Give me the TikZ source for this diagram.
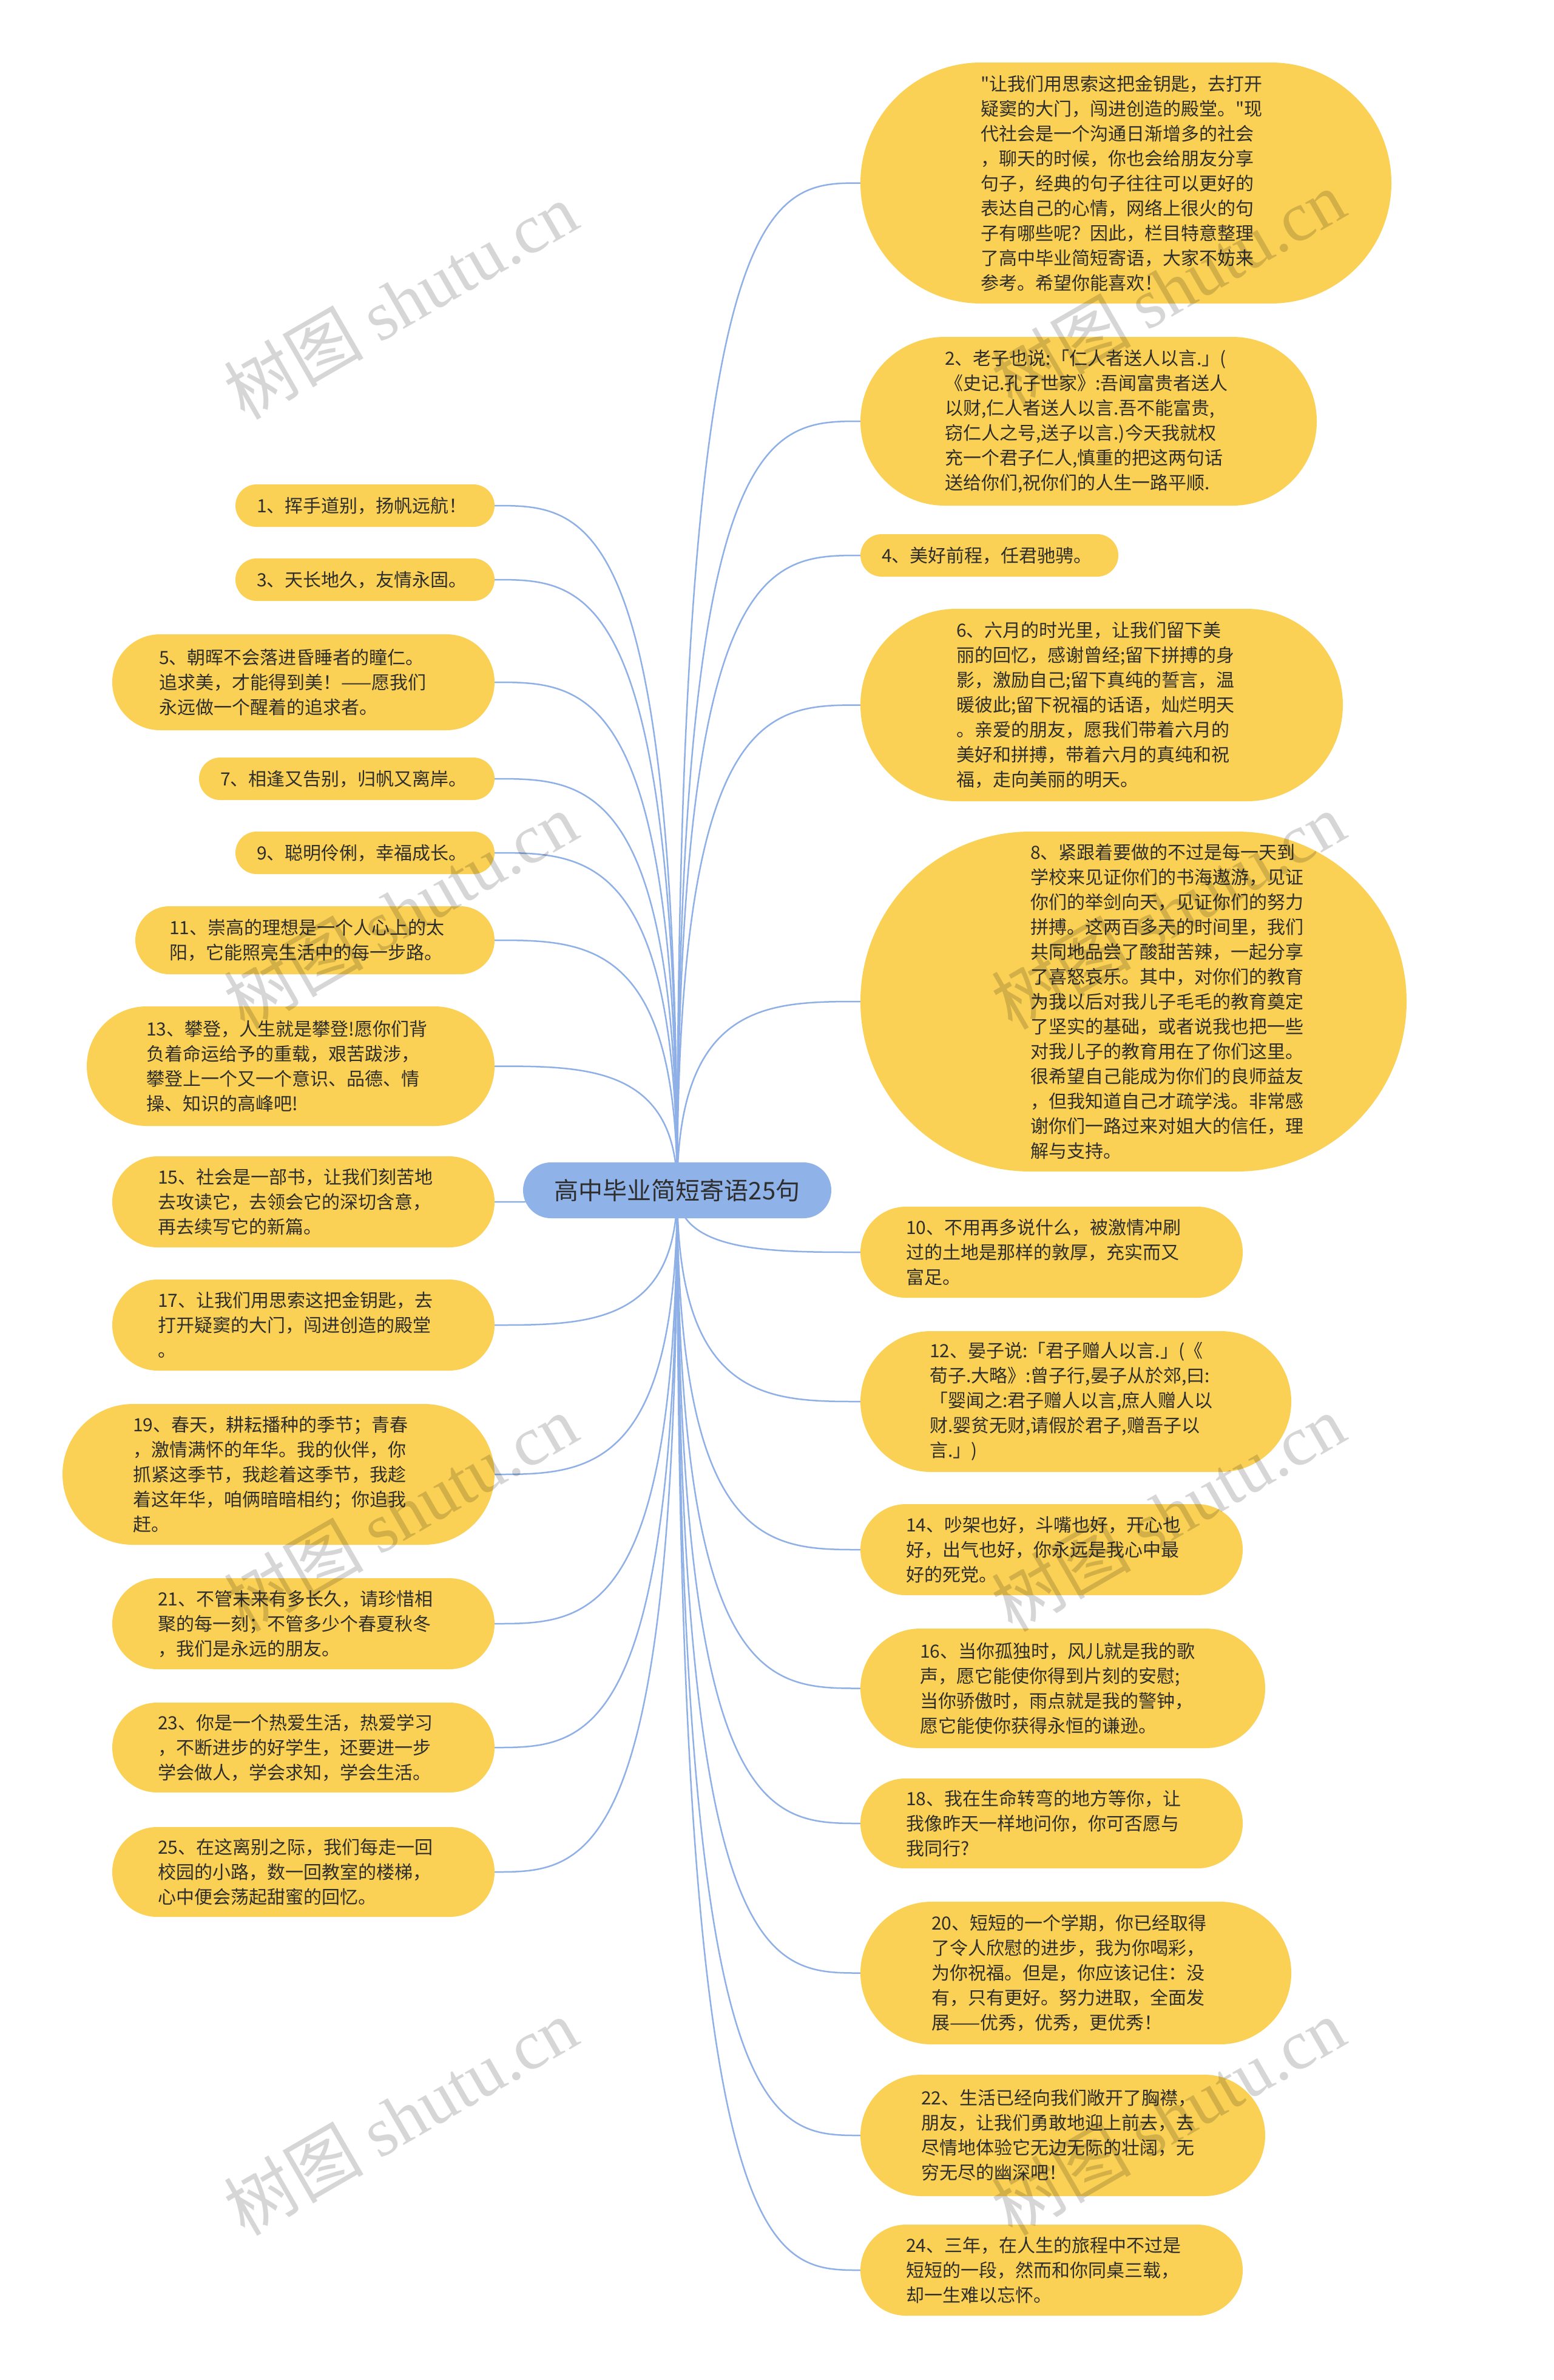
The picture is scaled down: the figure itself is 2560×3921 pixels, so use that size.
\documentclass[tikz,border=0pt]{standalone}
\usepackage{fontspec}
\setmainfont{Noto Sans CJK SC}[Ligatures=TeXOff]
\newfontfamily\wmserif{Liberation Serif}
\usetikzlibrary{calc,backgrounds}
\definecolor{pillY}{HTML}{FBD155}
\definecolor{rootB}{HTML}{8FB2E8}
\definecolor{lineB}{HTML}{8FB0E6}
\definecolor{txtC}{HTML}{2E2E2E}
\tikzset{
  pill/.style={fill=pillY, draw=none, inner sep=0pt},
  txt/.style={text=txtC, font=\fontsize{30}{41}\selectfont, align=left, inner sep=0pt, anchor=west},
  conn/.style={draw=lineB, line width=2.5pt},
  wmark/.style={rotate=30, text=black, opacity=0.16, font=\fontsize{115}{115}\selectfont, inner sep=0pt},
}
\newcommand\mypill[7]{%
  \pgfmathsetmacro\pw{#4-#2}%
  \pgfmathsetmacro\ph{#5-#3}%
  \pgfmathsetmacro\pr{(#5-#3)/2-0.05}%
  \node[pill, minimum width=\pw pt, minimum height=\ph pt, rounded corners=\pr pt] (#1) at ({(#2+#4)/2},{(#3+#5)/2}) {};
  \node[txt] (#1t) at (#6,{(#3+#5)/2}) {#7};
}
\newcommand\connR[1]{\draw[conn] (root.center) .. controls (root.center |- #1.west) and ($(root.center |- #1.west)!0.5!(#1.west)$) .. (#1.west);}
\newcommand\connL[1]{\draw[conn] (root.center) .. controls (root.center |- #1.east) and ($(root.center |- #1.east)!0.5!(#1.east)$) .. (#1.east);}
\begin{document}
\begin{tikzpicture}[x=1pt,y=-1pt]
\useasboundingbox (0,0) rectangle (2560,3921);
\node[fill=rootB, rounded corners=46pt, minimum width=508pt, minimum height=92pt, inner sep=0pt, text=txtC, font=\fontsize{40}{48}\selectfont] (root) at (1116,1961) {高中毕业简短寄语25句};

% right column
\mypill{r0}{1418}{103}{2293}{500}{1616}{"让我们用思索这把金钥匙，去打开\\疑窦的大门，闯进创造的殿堂。"现\\代社会是一个沟通日渐增多的社会\\，聊天的时候，你也会给朋友分享\\句子，经典的句子往往可以更好的\\表达自己的心情，网络上很火的句\\子有哪些呢？因此，栏目特意整理\\了高中毕业简短寄语，大家不妨来\\参考。希望你能喜欢！}
\mypill{r2}{1418}{555}{2170}{833}{1557}{2、老子也说:「仁人者送人以言.」(\\《史记.孔子世家》:吾闻富贵者送人\\以财,仁人者送人以言.吾不能富贵,\\窃仁人之号,送子以言.)今天我就权\\充一个君子仁人,慎重的把这两句话\\送给你们,祝你们的人生一路平顺.}
\mypill{r4}{1418}{880}{1843}{950}{1453}{4、美好前程，任君驰骋。}
\mypill{r6}{1418}{1003}{2213}{1320}{1576}{6、六月的时光里，让我们留下美\\丽的回忆，感谢曾经;留下拼搏的身\\影，激励自己;留下真纯的誓言，温\\暖彼此;留下祝福的话语，灿烂明天\\。亲爱的朋友，愿我们带着六月的\\美好和拼搏，带着六月的真纯和祝\\福，走向美丽的明天。}
\mypill{r8}{1418}{1370}{2318}{1930}{1698}{8、紧跟着要做的不过是每一天到\\学校来见证你们的书海遨游，见证\\你们的举剑向天，见证你们的努力\\拼搏。这两百多天的时间里，我们\\共同地品尝了酸甜苦辣，一起分享\\了喜怒哀乐。其中，对你们的教育\\为我以后对我儿子毛毛的教育奠定\\了坚实的基础，或者说我也把一些\\对我儿子的教育用在了你们这里。\\很希望自己能成为你们的良师益友\\，但我知道自己才疏学浅。非常感\\谢你们一路过来对姐大的信任，理\\解与支持。}
\mypill{r10}{1418}{1988}{2048}{2138}{1493}{10、不用再多说什么，被激情冲刷\\过的土地是那样的敦厚，充实而又\\富足。}
\mypill{r12}{1418}{2193}{2128}{2425}{1532}{12、晏子说:「君子赠人以言.」(《\\荀子.大略》:曾子行,晏子从於郊,曰:\\「婴闻之:君子赠人以言,庶人赠人以\\财.婴贫无财,请假於君子,赠吾子以\\言.」)}
\mypill{r14}{1418}{2478}{2048}{2628}{1493}{14、吵架也好，斗嘴也好，开心也\\好，出气也好，你永远是我心中最\\好的死党。}
\mypill{r16}{1418}{2683}{2085}{2880}{1516}{16、当你孤独时，风儿就是我的歌\\声，愿它能使你得到片刻的安慰;\\当你骄傲时，雨点就是我的警钟，\\愿它能使你获得永恒的谦逊。}
\mypill{r18}{1418}{2930}{2048}{3078}{1493}{18、我在生命转弯的地方等你，让\\我像昨天一样地问你，你可否愿与\\我同行?}
\mypill{r20}{1418}{3133}{2128}{3368}{1535}{20、短短的一个学期，你已经取得\\了令人欣慰的进步，我为你喝彩，\\为你祝福。但是，你应该记住：没\\有，只有更好。努力进取，全面发\\展——优秀，优秀，更优秀！}
\mypill{r22}{1418}{3418}{2085}{3618}{1518}{22、生活已经向我们敞开了胸襟，\\朋友，让我们勇敢地迎上前去，去\\尽情地体验它无边无际的壮阔，无\\穷无尽的幽深吧！}
\mypill{r24}{1418}{3665}{2048}{3815}{1493}{24、三年，在人生的旅程中不过是\\短短的一段，然而和你同桌三载，\\却一生难以忘怀。}

% left column
\mypill{l1}{388}{798}{815}{868}{423}{1、挥手道别，扬帆远航！}
\mypill{l3}{388}{920}{815}{990}{423}{3、天长地久，友情永固。}
\mypill{l5}{185}{1045}{815}{1203}{262}{5、朝晖不会落进昏睡者的瞳仁。\\追求美，才能得到美！——愿我们\\永远做一个醒着的追求者。}
\mypill{l7}{328}{1248}{815}{1318}{363}{7、相逢又告别，归帆又离岸。}
\mypill{l9}{388}{1370}{815}{1440}{423}{9、聪明伶俐，幸福成长。}
\mypill{l11}{223}{1493}{815}{1605}{279}{11、崇高的理想是一个人心上的太\\阳，它能照亮生活中的每一步路。}
\mypill{l13}{143}{1658}{815}{1855}{241}{13、攀登，人生就是攀登!愿你们背\\负着命运给予的重载，艰苦跋涉，\\攀登上一个又一个意识、品德、情\\操、知识的高峰吧!}
\mypill{l15}{185}{1905}{815}{2055}{260}{15、社会是一部书，让我们刻苦地\\去攻读它，去领会它的深切含意，\\再去续写它的新篇。}
\mypill{l17}{185}{2108}{815}{2258}{260}{17、让我们用思索这把金钥匙，去\\打开疑窦的大门，闯进创造的殿堂\\。}
\mypill{l19}{103}{2313}{815}{2545}{219}{19、春天，耕耘播种的季节；青春\\，激情满怀的年华。我的伙伴，你\\抓紧这季节，我趁着这季节，我趁\\着这年华，咱俩暗暗相约；你追我\\赶。}
\mypill{l21}{185}{2600}{815}{2750}{260}{21、不管未来有多长久，请珍惜相\\聚的每一刻；不管多少个春夏秋冬\\，我们是永远的朋友。}
\mypill{l23}{185}{2805}{815}{2953}{260}{23、你是一个热爱生活，热爱学习\\，不断进步的好学生，还要进一步\\学会做人，学会求知，学会生活。}
\mypill{l25}{185}{3010}{815}{3158}{260}{25、在这离别之际，我们每走一回\\校园的小路，数一回教室的楼梯，\\心中便会荡起甜蜜的回忆。}

\begin{scope}[on background layer]
\fill[white] (0,0) rectangle (2560,3921);
\foreach \n in {r0,r2,r4,r6,r8,r10,r12,r14,r16,r18,r20,r22,r24}{\connR{\n}}
\foreach \n in {l1,l3,l5,l7,l9,l11,l13,l15,l17,l19,l21,l23,l25}{\connL{\n}}
\end{scope}

% watermarks
\node[wmark] (wm1) at (660,495) {树图 {\wmserif shutu.cn}};
\node[wmark] (wm2) at (1925,475) {树图 {\wmserif shutu.cn}};
\node[wmark] (wm3) at (660,1500) {树图 {\wmserif shutu.cn}};
\node[wmark] (wm4) at (1925,1500) {树图 {\wmserif shutu.cn}};
\node[wmark] (wm5) at (660,2492) {树图 {\wmserif shutu.cn}};
\node[wmark] (wm6) at (1925,2492) {树图 {\wmserif shutu.cn}};
\node[wmark] (wm7) at (660,3487) {树图 {\wmserif shutu.cn}};
\node[wmark] (wm8) at (1925,3487) {树图 {\wmserif shutu.cn}};
\end{tikzpicture}
\end{document}
